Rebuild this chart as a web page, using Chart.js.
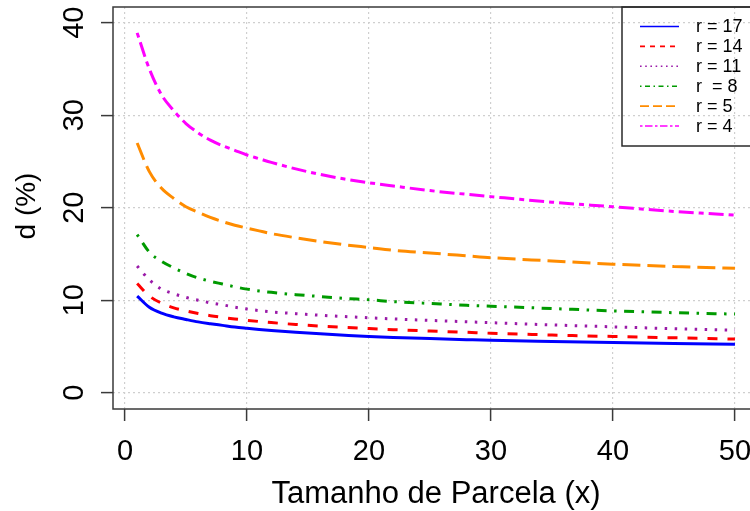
<!DOCTYPE html>
<html>
<head>
<meta charset="utf-8">
<script src="https://cdn.jsdelivr.net/npm/chart.js@4/dist/chart.umd.min.js"></script>
<style>
  html, body { margin: 0; padding: 0; background: #ffffff; overflow: hidden; }
  canvas { display: block; }
</style>
</head>
<body>
<canvas id="chart" width="770" height="511"></canvas>
<script>
// Plot size x (Tamanho de Parcela) and the precision d (%) for each number of replicates r
const xValues = [1, 2, 3, 4, 5, 6, 7, 8, 9, 10, 11, 12, 14, 16, 18, 20, 22, 25, 28, 30, 35, 40, 45, 50];
const dR17 = [10.45, 9.25, 8.6, 8.2, 7.92, 7.66, 7.46, 7.28, 7.1, 6.96, 6.83, 6.72, 6.53, 6.37, 6.22, 6.08, 5.97, 5.85, 5.74, 5.67, 5.54, 5.42, 5.32, 5.23];
const dR14 = [11.8, 10.45, 9.68, 9.17, 8.84, 8.56, 8.33, 8.14, 7.97, 7.83, 7.7, 7.58, 7.38, 7.2, 7.06, 6.93, 6.82, 6.67, 6.53, 6.43, 6.24, 6.08, 5.94, 5.8];
const dR11 = [13.7, 12.2, 11.2, 10.7, 10.3, 10.0, 9.72, 9.5, 9.25, 9.05, 8.88, 8.74, 8.55, 8.38, 8.23, 8.1, 7.98, 7.82, 7.67, 7.57, 7.33, 7.12, 6.92, 6.75];
const dR8 = [17.1, 15.2, 14.2, 13.5, 12.9, 12.4, 12.05, 11.75, 11.45, 11.2, 11.0, 10.85, 10.6, 10.4, 10.2, 10.05, 9.85, 9.65, 9.45, 9.35, 9.1, 8.85, 8.65, 8.5];
const dR5 = [27.0, 23.9, 22.1, 21.0, 20.1, 19.5, 18.95, 18.5, 18.1, 17.8, 17.5, 17.2, 16.75, 16.35, 16.0, 15.7, 15.4, 15.1, 14.8, 14.6, 14.25, 13.9, 13.65, 13.45];
const dR4 = [38.9, 35.0, 32.2, 30.5, 29.1, 28.1, 27.3, 26.7, 26.2, 25.7, 25.3, 24.9, 24.2, 23.6, 23.1, 22.7, 22.35, 21.85, 21.45, 21.2, 20.6, 20.1, 19.6, 19.2];

const seriesLabels = ['r = 17', 'r = 14', 'r = 11', 'r  = 8', 'r = 5', 'r = 4'];
const xTicks = [0, 10, 20, 30, 40, 50];
const yTicks = [0, 10, 20, 30, 40];
const xTitle = 'Tamanho de Parcela (x)';
const yTitle = 'd (%)';

// line styles: solid, dashed, dotted, dot-dash, long dash, two-dash
const styles = [
  { color: '#0000ff', dash: [], legendDash: [] },
  { color: '#ff0000', dash: [10, 10], legendDash: [5, 5] },
  { color: '#9a1aa8', dash: [2.5, 7.5], legendDash: [1.6, 3.6] },
  { color: '#009a00', dash: [2.5, 7.5, 10, 7.5], legendDash: [1.5, 3.5, 5, 3.5] },
  { color: '#ff8c00', dash: [18, 7], legendDash: [9, 4] },
  { color: '#ff00ff', dash: [5, 5, 15, 5], legendDash: [2.5, 2.5, 7.5, 2.5] }
];
const seriesValues = [dR17, dR14, dR11, dR8, dR5, dR4];

const FONT = '"Liberation Sans", Arial, Helvetica, sans-serif';

const datasets = seriesValues.map((vals, i) => ({
  label: seriesLabels[i],
  data: xValues.map((x, k) => ({ x: x, y: vals[k] })),
  borderColor: styles[i].color,
  borderDash: styles[i].dash,
  borderWidth: 3,
  pointRadius: 0,
  fill: false,
  cubicInterpolationMode: 'monotone'
}));

const frameAndText = {
  id: 'frameAndText',
  afterDraw(chart) {
    const { ctx, chartArea: a, scales } = chart;
    const xs = scales.x, ys = scales.y;
    ctx.save();

    // plot box
    ctx.strokeStyle = '#3a3a3a';
    ctx.lineWidth = 1.5;
    ctx.setLineDash([]);
    ctx.strokeRect(a.left, a.top, a.right - a.left, a.bottom - a.top);

    ctx.fillStyle = '#000000';
    // x tick labels
    ctx.font = '29px ' + FONT;
    ctx.textAlign = 'center';
    ctx.textBaseline = 'alphabetic';
    xs.ticks.forEach(t => {
      ctx.fillText(String(t.value), xs.getPixelForValue(t.value), 460);
    });
    // y tick labels, rotated
    ys.ticks.forEach(t => {
      ctx.save();
      ctx.translate(83, ys.getPixelForValue(t.value));
      ctx.rotate(-Math.PI / 2);
      ctx.fillText(String(t.value), 0, 0);
      ctx.restore();
    });
    // axis titles
    ctx.font = '31px ' + FONT;
    ctx.fillText(xTitle, (a.left + a.right) / 2, 503);
    ctx.font = '28px ' + FONT;
    ctx.save();
    ctx.translate(35, (a.top + a.bottom) / 2 - 2);
    ctx.rotate(-Math.PI / 2);
    ctx.fillText(yTitle, 0, 0);
    ctx.restore();

    // legend
    const lx = 622, ly = a.top;
    ctx.strokeStyle = '#2a2a2a';
    ctx.lineWidth = 1.5;
    ctx.strokeRect(lx, ly, 200, 146 - ly);
    ctx.font = '18px ' + FONT;
    ctx.textAlign = 'left';
    ctx.textBaseline = 'middle';
    chart.data.datasets.forEach((ds, i) => {
      const y = 26.5 + i * 19.9;
      ctx.strokeStyle = styles[i].color;
      ctx.lineWidth = 1.6;
      ctx.setLineDash(styles[i].legendDash);
      ctx.beginPath();
      ctx.moveTo(640, y);
      ctx.lineTo(679, y);
      ctx.stroke();
      ctx.setLineDash([]);
      ctx.fillStyle = '#000000';
      ctx.fillText(ds.label, 696, y + 1);
    });
    ctx.restore();
  }
};

new Chart(document.getElementById('chart'), {
  type: 'line',
  data: { datasets: datasets },
  options: {
    responsive: false,
    animation: false,
    devicePixelRatio: 1,
    layout: { padding: { left: 101, top: 7, right: 11, bottom: 90 } },
    plugins: { legend: { display: false }, tooltip: { enabled: false } },
    scales: {
      x: {
        type: 'linear',
        min: -0.98,
        max: 51.97,
        afterBuildTicks: s => { s.ticks = xTicks.map(v => ({ value: v })); },
        afterFit: s => { s.height = 12; },
        ticks: { display: false },
        grid: {
          color: '#cfcfcf', lineWidth: 1.2, drawTicks: true, tickLength: 12,
          tickColor: '#3a3a3a', tickWidth: 1.5, tickBorderDash: []
        },
        border: { display: false, dash: [2, 3] }
      },
      y: {
        type: 'linear',
        min: -1.76,
        max: 41.7,
        afterBuildTicks: s => { s.ticks = yTicks.map(v => ({ value: v })); },
        afterFit: s => { s.width = 12; },
        ticks: { display: false },
        grid: {
          color: '#cfcfcf', lineWidth: 1.2, drawTicks: true, tickLength: 12,
          tickColor: '#3a3a3a', tickWidth: 1.5, tickBorderDash: []
        },
        border: { display: false, dash: [2, 3] }
      }
    }
  },
  plugins: [frameAndText]
});
</script>
</body>
</html>
